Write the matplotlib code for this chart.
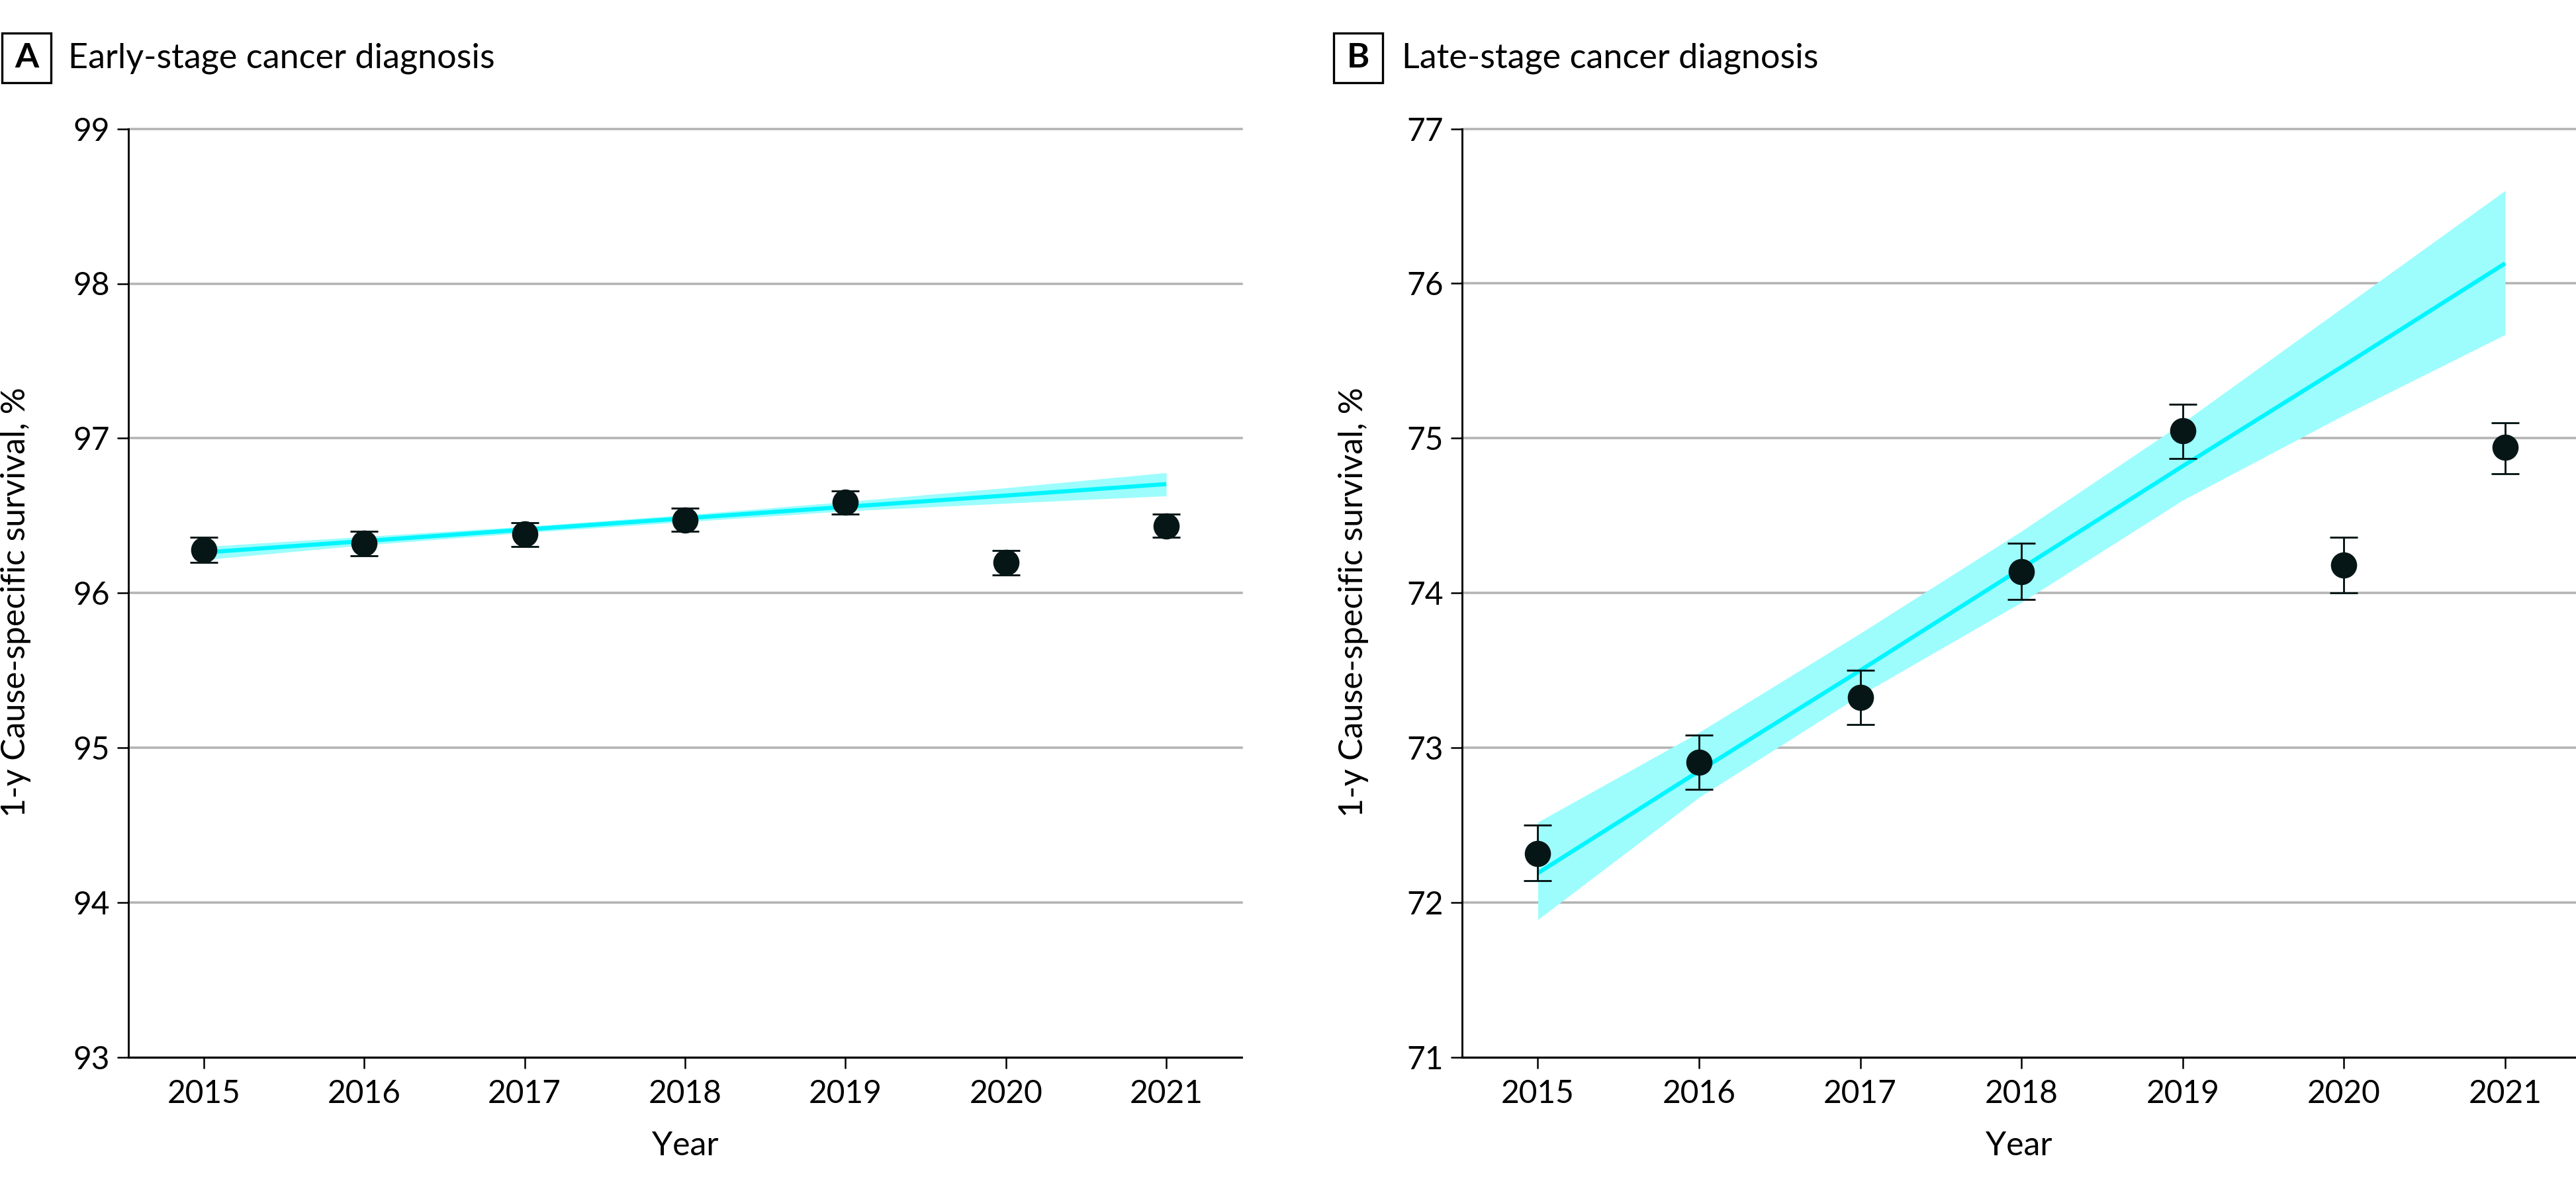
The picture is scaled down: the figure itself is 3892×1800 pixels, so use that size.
import matplotlib
matplotlib.use("Agg")
import matplotlib.pyplot as plt
from matplotlib.patches import Rectangle
import numpy as np

plt.rcParams['font.family'] = ['Lato', 'DejaVu Sans']

years = [2015, 2016, 2017, 2018, 2019, 2020, 2021]
year_labels = ["2015", "2016", "2017", "2018", "2019", "2020", "2021"]

# Panel A: early-stage
early_obs = [96.28, 96.32, 96.38, 96.47, 96.585, 96.197, 96.433]
early_lo = [96.20, 96.24, 96.30, 96.40, 96.51, 96.115, 96.36]
early_hi = [96.36, 96.40, 96.455, 96.55, 96.66, 96.275, 96.51]
early_fit = [96.262, 96.336, 96.41, 96.483, 96.557, 96.63, 96.704]
early_band_lo = [96.215, 96.31, 96.39, 96.46, 96.53, 96.58, 96.628]
early_band_hi = [96.30, 96.365, 96.43, 96.505, 96.59, 96.68, 96.778]

# Panel B: late-stage
late_obs = [72.315, 72.906, 73.325, 74.14, 75.05, 74.18, 74.94]
late_lo = [72.14, 72.73, 73.15, 73.96, 74.87, 74.00, 74.77]
late_hi = [72.50, 73.08, 73.50, 74.32, 75.22, 74.36, 75.10]
late_fit = [72.19, 72.85, 73.50, 74.16, 74.82, 75.47, 76.13]
late_band_lo = [71.89, 72.68, 73.34, 73.94, 74.60, 75.15, 75.67]
late_band_hi = [72.52, 73.10, 73.74, 74.40, 75.10, 75.85, 76.60]

early_yticks = [93, 94, 95, 96, 97, 98, 99]
late_yticks = [71, 72, 73, 74, 75, 76, 77]

panel_letters = ["A", "B"]
panel_titles = ["Early-stage cancer diagnosis", "Late-stage cancer diagnosis"]
ylabel = "1-y Cause-specific survival, %"
xlabel = "Year"

W, H, DPI = 3892, 1800, 300
fig = plt.figure(figsize=(W / DPI, H / DPI), dpi=DPI)

FS = 11.5
FS_LAB = 12
FS_TITLE = 12.5
LINE_C = "#00F5FF"
BAND_C = "#9DFDFD"
PT_C = "#061616"
GRID_C = "#B3B3B3"

def px(x0, y0, x1, y1):
    return [x0 / W, 1 - y1 / H, (x1 - x0) / W, (y1 - y0) / H]

axA = fig.add_axes(px(194, 194.6, 1876, 1598))
axB = fig.add_axes(px(2209, 194.6, 3892, 1598))

specs = [
    (axA, early_obs, early_lo, early_hi, early_fit, early_band_lo, early_band_hi, early_yticks, (2014.53, 2021.47)),
    (axB, late_obs, late_lo, late_hi, late_fit, late_band_lo, late_band_hi, late_yticks, (2014.53, 2021.44)),
]

for ax, obs, lo, hi, fit, blo, bhi, yt, xl in specs:
    obs_a = np.array(obs)
    yerr = [obs_a - np.array(lo), np.array(hi) - obs_a]
    ax.set_ylim(yt[0], yt[-1])
    ax.set_xlim(*xl)
    ax.set_yticks(yt)
    ax.set_yticklabels([str(v) for v in yt])
    ax.set_xticks(years)
    ax.set_xticklabels(year_labels)
    ax.yaxis.grid(True, color=GRID_C, linewidth=0.85, zorder=0)
    ax.set_axisbelow(True)
    ax.fill_between(years, blo, bhi, color=BAND_C, linewidth=0, zorder=1)
    ax.plot(years, fit, color=LINE_C, linewidth=1.5, zorder=2, solid_capstyle='butt')
    ax.errorbar(years, obs, yerr=yerr, fmt='o', color=PT_C, ecolor=PT_C,
                markersize=8.5, elinewidth=0.7, capsize=5, capthick=0.7, zorder=3)
    for s in ["top", "right"]:
        ax.spines[s].set_visible(False)
    for s in ["left", "bottom"]:
        ax.spines[s].set_linewidth(0.7)
        ax.spines[s].set_color("black")
        ax.spines[s].set_zorder(4)
    ax.tick_params(axis='both', direction='out', length=4, width=0.6, labelsize=FS, color='black')
    ax.tick_params(axis='y', pad=2.8)
    ax.tick_params(axis='x', pad=4)
    ax.set_xlabel(xlabel, fontsize=FS_LAB, labelpad=8)
    ax.set_ylabel(ylabel, fontsize=FS_LAB)
    for g in ax.get_ygridlines():
        g.set_clip_on(False)

axA.yaxis.set_label_coords(-0.0874, 0.49)
axB.yaxis.set_label_coords(-0.0838, 0.49)

# Panel letter boxes and titles
for (bx0, tx), letter, title in zip([(3, 103), (2015, 2118)], panel_letters, panel_titles):
    by0, by1 = 50, 125
    bw = 74
    rect = Rectangle((bx0 / W, 1 - by1 / H), bw / W, (by1 - by0) / H,
                     transform=fig.transFigure, fill=False, edgecolor='black', linewidth=0.8)
    fig.add_artist(rect)
    fig.text((bx0 + bw / 2) / W, 1 - 88 / H, letter, ha='center', va='center',
             fontsize=FS_TITLE, fontweight='bold')
    fig.text(tx / W, 1 - 88 / H, title, ha='left', va='center', fontsize=FS_TITLE)

fig.savefig("out.png", dpi=DPI)
